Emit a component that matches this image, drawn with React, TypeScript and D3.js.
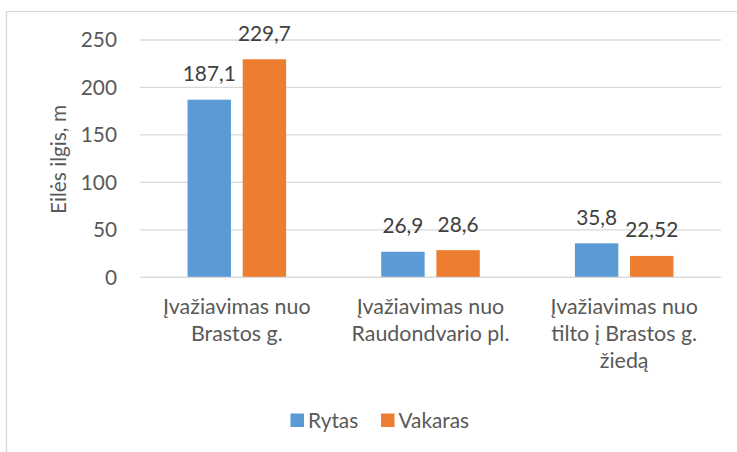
import React from "react";
import * as d3 from "d3";

const categories: string[][] = [
  ["Įvažiavimas nuo", "Brastos g."],
  ["Įvažiavimas nuo", "Raudondvario pl."],
  ["Įvažiavimas nuo", "tilto į Brastos g.", "žiedą"],
];
const seriesNames = ["Rytas", "Vakaras"];
const rytas = [187.1, 26.9, 35.8];
const vakaras = [229.7, 28.6, 22.52];
const valueLabels = [
  ["187,1", "26,9", "35,8"],
  ["229,7", "28,6", "22,52"],
];
const yTicks = [0, 50, 100, 150, 200, 250];
const yTitle = "Eilės ilgis, m";

const W = 737;
const H = 452;
const colors = ["#5B9BD5", "#ED7D31"];
const textColor = "#595959";
const gridColor = "#D9D9D9";
const font = "Lato, 'Open Sans', sans-serif";
const fs = 20.8;

export default function App() {
  const plotLeft = 140;
  const plotRight = 721;
  const y = d3.scaleLinear().domain([0, 250]).range([277.3, 40]);
  const x0 = d3
    .scaleBand<number>()
    .domain(categories.map((_, i) => i))
    .range([plotLeft, plotRight])
    .paddingInner(0)
    .paddingOuter(0);
  const bw = x0.bandwidth();
  const barW = bw / 4.46;
  const gap = barW * 0.27;
  const series = [rytas, vakaras];

  return (
    <div style={{ position: "absolute", left: 0, top: 0 }}>
      <svg width={W} height={H} style={{ display: "block", background: "#fff" }} fontFamily={font}>
        <rect x={0} y={0} width={W} height={H} fill="#fff" />
        <rect x={6.5} y={11.5} width={W + 20} height={H + 20} fill="none" stroke={gridColor} strokeWidth={1.3} />
        {yTicks.map((t) => (
          <g key={t}>
            <line x1={plotLeft} x2={plotRight} y1={y(t)} y2={y(t)} stroke={gridColor} strokeWidth={1.3} />
            <text x={117} y={y(t) + 7.3} textAnchor="end" fontSize={fs} fill={textColor}>
              {t}
            </text>
          </g>
        ))}
        {series.map((vals, si) =>
          vals.map((v, ci) => {
            const cx = (x0(ci) as number) + bw / 2;
            const bx = si === 0 ? cx - gap / 2 - barW : cx + gap / 2;
            return (
              <g key={`${si}-${ci}`}>
                <rect x={bx} y={y(v)} width={barW} height={y(0) - y(v)} fill={colors[si]} />
                <text x={bx + barW / 2} y={y(v) - 18.5} textAnchor="middle" fontSize={fs} fill="#404040">
                  {valueLabels[si][ci]}
                </text>
              </g>
            );
          })
        )}
        <line x1={plotLeft} x2={plotRight} y1={y(0)} y2={y(0)} stroke={gridColor} strokeWidth={1.3} />
        {categories.map((lines, ci) => {
          const cx = (x0(ci) as number) + bw / 2;
          return (
            <text key={ci} textAnchor="middle" fontSize={fs + 0.6} fill={textColor}>
              {lines.map((l, li) => (
                <tspan key={li} x={cx} y={314 + li * 27}>
                  {l}
                </tspan>
              ))}
            </text>
          );
        })}
        <text
          transform={`translate(${66},${159.5}) rotate(-90)`}
          textAnchor="middle"
          fontSize={fs}
          fill={textColor}
        >
          {yTitle}
        </text>
        {seriesNames.map((n, i) => {
          const lx = i === 0 ? 290.5 : 381;
          return (
            <g key={n}>
              <rect x={lx} y={413.5} width={13.5} height={13.5} fill={colors[i]} />
              <text x={lx + 17.5} y={428} fontSize={fs} fill={textColor}>
                {n}
              </text>
            </g>
          );
        })}
      </svg>
    </div>
  );
}
